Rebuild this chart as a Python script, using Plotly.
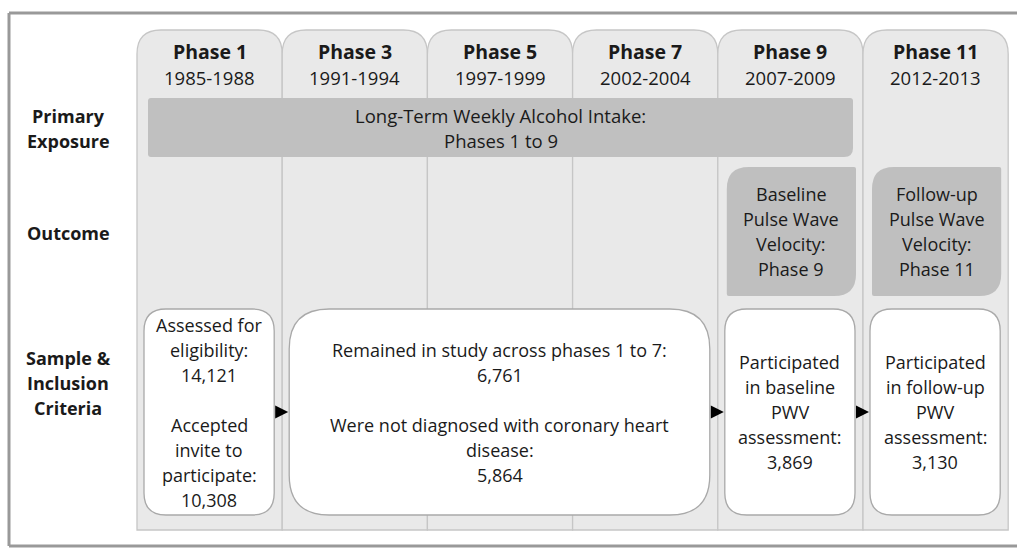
import plotly.graph_objects as go

# ---------------- data ----------------
phases = ["Phase 1", "Phase 3", "Phase 5", "Phase 7", "Phase 9", "Phase 11"]
years = ["1985-1988", "1991-1994", "1997-1999", "2002-2004", "2007-2009", "2012-2013"]

row_labels = [["Primary", "Exposure"], ["Outcome"], ["Sample &", "Inclusion", "Criteria"]]

exposure_lines = ["Long-Term Weekly Alcohol Intake:", "Phases 1 to 9"]
exposure_first, exposure_last = "Phase 1", "Phase 9"

outcome_phases = ["Phase 9", "Phase 11"]
outcome_lines = [["Baseline", "Pulse Wave", "Velocity:", "Phase 9"],
                 ["Follow-up", "Pulse Wave", "Velocity:", "Phase 11"]]

sample_first = ["Phase 1", "Phase 3", "Phase 9", "Phase 11"]
sample_last = ["Phase 1", "Phase 7", "Phase 9", "Phase 11"]
sample_labels = [
    [["Assessed for", "eligibility:"], ["Accepted", "invite to", "participate:"]],
    [["Remained in study across phases 1 to 7:"], ["Were not diagnosed with coronary heart", "disease:"]],
    [["Participated", "in baseline", "PWV", "assessment:"]],
    [["Participated", "in follow-up", "PWV", "assessment:"]],
]
sample_counts = [[14121, 10308], [6761, 5864], [3869], [3130]]

# ---------------- geometry / style ----------------
W, H = 1017, 548
COL_X0, COL_W = 137, 145.2
TAB_TOP, COL_BOTTOM = 30, 530
EXP_Y0, EXP_Y1 = 98, 157
OUT_Y0, OUT_Y1 = 167, 296
SAM_Y0, SAM_Y1 = 309, 515
LINE_H = 25
FONT = "'Open Sans', 'Noto Sans', sans-serif"
TXT = "#1a1a1a"
BODY = 18


def col_left(i):
    return COL_X0 + i * COL_W


def rrect(x0, y0, x1, y1, tl, tr, br, bl):
    return (f"M{x0+tl},{y0} L{x1-tr},{y0} Q{x1},{y0} {x1},{y0+tr} "
            f"L{x1},{y1-br} Q{x1},{y1} {x1-br},{y1} L{x0+bl},{y1} "
            f"Q{x0},{y1} {x0},{y1-bl} L{x0},{y0+tl} Q{x0},{y0} {x0+tl},{y0} Z")


shapes = []
annotations = []


def text(x, y, s, size=BODY, bold=False):
    annotations.append(dict(
        x=x, y=y, xref="x", yref="y", text=(f"<b>{s}</b>" if bold else s),
        showarrow=False, xanchor="center", yanchor="middle",
        font=dict(family=FONT, size=size, color=TXT)))


def lines_block(xc, yc, lines, size=BODY, bold=False, lh=LINE_H):
    n = len(lines)
    y_start = yc - (n - 1) * lh / 2
    for k, s in enumerate(lines):
        if s:
            text(xc, y_start + k * lh, s, size, bold)


# outer frame (top, left, bottom)
frame = dict(color="#999999", width=3)
shapes.append(dict(type="line", x0=9, x1=W, y0=13, y1=13, line=frame, xref="x", yref="y"))
shapes.append(dict(type="line", x0=9, x1=9, y0=13, y1=546, line=frame, xref="x", yref="y"))
shapes.append(dict(type="line", x0=9, x1=W, y0=546, y1=546, line=frame, xref="x", yref="y"))

# phase columns with rounded tabs
for i, (ph, yr) in enumerate(zip(phases, years)):
    x0, x1 = col_left(i), col_left(i + 1)
    shapes.append(dict(type="path", xref="x", yref="y",
                       path=rrect(x0, TAB_TOP, x1, COL_BOTTOM, 24, 24, 0, 0),
                       fillcolor="#e9e9e9", line=dict(color="#c6c6c6", width=1.3)))
    xc = (x0 + x1) / 2
    text(xc, 51, ph, 19.5, bold=True)
    text(xc, 77, yr, 18.5)

# row labels
for lines, yc in zip(row_labels, [128, 233, 383]):
    lines_block(68, yc, lines, 18, bold=True)

# exposure bar
ei, ej = phases.index(exposure_first), phases.index(exposure_last)
ex0, ex1 = col_left(ei) + 11, col_left(ej + 1) - 10
shapes.append(dict(type="path", xref="x", yref="y",
                   path=rrect(ex0, EXP_Y0, ex1, EXP_Y1, 3, 3, 9, 3),
                   fillcolor="#c0c0c0", line=dict(width=0)))
lines_block((ex0 + ex1) / 2, (EXP_Y0 + EXP_Y1) / 2, exposure_lines, 18.5)

# outcome boxes
for ph, lines in zip(outcome_phases, outcome_lines):
    i = phases.index(ph)
    x0, x1 = col_left(i) + 9, col_left(i + 1) - 7
    shapes.append(dict(type="path", xref="x", yref="y",
                       path=rrect(x0, OUT_Y0, x1, OUT_Y1, 22, 2, 22, 2),
                       fillcolor="#bfbfbf", line=dict(width=0)))
    lines_block((x0 + x1) / 2, (OUT_Y0 + OUT_Y1) / 2, lines)

# sample boxes
boxes = []
for f, l, labels, counts in zip(sample_first, sample_last, sample_labels, sample_counts):
    i, j = phases.index(f), phases.index(l)
    x0, x1 = col_left(i) + 7, col_left(j + 1) - 8
    r = 40 if j > i else 22
    shapes.append(dict(type="path", xref="x", yref="y",
                       path=rrect(x0, SAM_Y0, x1, SAM_Y1, r, r, r, r),
                       fillcolor="#ffffff", line=dict(color="#a9a9a9", width=1.3)))
    lines = []
    for g, (lab, cnt) in enumerate(zip(labels, counts)):
        if g > 0:
            lines.append("")
        lines += lab + [f"{cnt:,}"]
    lines_block((x0 + x1) / 2, (SAM_Y0 + SAM_Y1) / 2, lines)
    boxes.append((x0, x1))

# arrows between sample boxes
ay = 412
for (a0, a1), (b0, b1) in zip(boxes[:-1], boxes[1:]):
    annotations.append(dict(x=b0 - 1, y=ay, ax=a1 + 1, ay=ay, xref="x", yref="y",
                            axref="x", ayref="y", text="", showarrow=True,
                            arrowhead=2, arrowsize=1.3, arrowwidth=2, arrowcolor="#000000"))

fig = go.Figure()
fig.update_layout(
    width=W, height=H, margin=dict(l=0, r=0, t=0, b=0),
    paper_bgcolor="white", plot_bgcolor="white",
    xaxis=dict(range=[0, W], visible=False, fixedrange=True),
    yaxis=dict(range=[H, 0], visible=False, fixedrange=True),
    shapes=shapes, annotations=annotations, showlegend=False,
)
fig.write_html("out.html", config={"displayModeBar": False},
               post_script="document.body.style.margin='0';document.body.style.overflow='hidden';")
